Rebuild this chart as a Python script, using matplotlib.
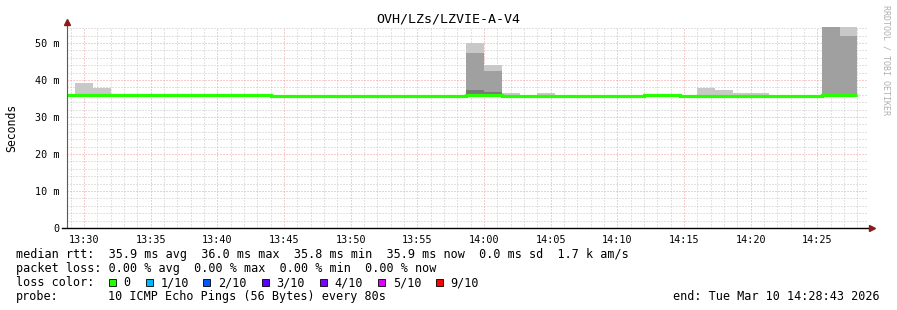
import numpy as np
import matplotlib
matplotlib.use("Agg")
import matplotlib.pyplot as plt
from matplotlib.patches import Rectangle
from matplotlib.ticker import MultipleLocator, FuncFormatter

MONO = "DejaVu Sans Mono"
plt.rcParams['font.family'] = MONO

# ---- data (ms), one value per 80 s probe step ----
title = "OVH/LZs/LZVIE-A-V4"
start_time = "13:28:43"
end_time = "14:28:43"
first_step_end = "13:29:20"
probe_step = 80  # seconds

rtt_median = [35.9, 35.9, 35.9, 35.9, 35.9, 35.9, 35.9, 35.9, 35.9, 35.9,
              36.0, 36.0,
              35.8, 35.8, 35.8, 35.8, 35.8, 35.8, 35.8, 35.8, 35.8, 35.8, 35.8,
              36.0, 36.0,
              35.8, 35.8, 35.8, 35.8, 35.8, 35.8, 35.8, 35.8,
              36.0, 36.0,
              35.8, 35.8, 35.8, 35.8, 35.8, 35.8, 35.8, 35.8,
              36.0, 36.0]
# outer smoke (max ping), middle smoke band top, dark core top
rtt_max = [35.9, 39.2, 37.8, 35.9, 35.9, 35.9, 35.9, 35.9, 35.9, 35.9,
           36.0, 36.0,
           35.8, 35.8, 35.8, 35.8, 35.8, 35.8, 35.8, 35.8, 35.8, 35.8, 35.8,
           49.9, 44.0,
           36.6, 35.8, 36.6, 35.8, 35.8, 35.8, 35.8, 35.8,
           36.0, 36.0,
           35.8, 37.9, 37.3, 36.6, 36.6, 35.8, 35.8, 35.8,
           80.0, 80.0]
rtt_upper = [35.9, 35.9, 35.9, 35.9, 35.9, 35.9, 35.9, 35.9, 35.9, 35.9,
             36.0, 36.0,
             35.8, 35.8, 35.8, 35.8, 35.8, 35.8, 35.8, 35.8, 35.8, 35.8, 35.8,
             47.4, 42.5,
             35.8, 35.8, 35.8, 35.8, 35.8, 35.8, 35.8, 35.8,
             36.0, 36.0,
             35.8, 35.8, 35.8, 35.8, 35.8, 35.8, 35.8, 35.8,
             75.0, 52.0]
rtt_core = [35.9, 35.9, 35.9, 35.9, 35.9, 35.9, 35.9, 35.9, 35.9, 35.9,
            36.0, 36.0,
            35.8, 35.8, 35.8, 35.8, 35.8, 35.8, 35.8, 35.8, 35.8, 35.8, 35.8,
            37.3, 36.8,
            35.8, 35.8, 35.8, 35.8, 35.8, 35.8, 35.8, 35.8,
            36.0, 36.0,
            35.8, 35.8, 35.8, 35.8, 35.8, 35.8, 35.8, 35.8,
            36.0, 36.0]

stats_line = "median rtt:  35.9 ms avg  36.0 ms max  35.8 ms min  35.9 ms now  0.0 ms sd  1.7 k am/s"
loss_line = "packet loss: 0.00 % avg  0.00 % max  0.00 % min  0.00 % now"
probe_text = "10 ICMP Echo Pings (56 Bytes) every 80s"
end_text = "end: Tue Mar 10 14:28:43 2026"
loss_labels = ["0", "1/10", "2/10", "3/10", "4/10", "5/10", "9/10"]
loss_colors = ["#26ff00", "#00b8ff", "#0059ff", "#5e00ff", "#7e00ff", "#dd00ff", "#ff0000"]


def secs(hms):
    h, m, s = [int(v) for v in hms.split(":")]
    return h * 3600 + m * 60 + s


W, H = 897, 310
fig = plt.figure(figsize=(W / 100, H / 100), dpi=100)
fig.patch.set_facecolor("white")

ax_l, ax_r, ax_t, ax_b = 67, 867, 27, 228
ax = fig.add_axes([ax_l / W, 1 - ax_b / H, (ax_r - ax_l) / W, (ax_b - ax_t) / H])

t0, t1 = secs(start_time), secs(end_time)
n = len(rtt_median)
edges = secs(first_step_end) - probe_step + probe_step * np.arange(n + 1)

med = np.array(rtt_median)
base = med - 0.3
ax.stairs(rtt_max, edges, baseline=base, fill=True, color="#c8c8c8", lw=0, zorder=2)
ax.stairs(rtt_upper, edges, baseline=base, fill=True, color="#a0a0a0", lw=0, zorder=3)
ax.stairs(rtt_core, edges, baseline=base, fill=True, color="#787878", lw=0, zorder=4)
ax.stairs(rtt_median, edges, baseline=None, color=loss_colors[0], lw=2.3, zorder=5)

ymax = (ax_b - ax_t) / 3.7
ax.set_xlim(t0, t1)
ax.set_ylim(0, ymax)

# grid
ax.xaxis.set_major_locator(MultipleLocator(300))
ax.xaxis.set_minor_locator(MultipleLocator(60))
ax.yaxis.set_major_locator(MultipleLocator(10))
ax.yaxis.set_minor_locator(MultipleLocator(2))
ax.grid(which="minor", color="#c6c6c6", lw=0.72, linestyle=(0, (1, 2)), zorder=0)
ax.grid(which="major", color="#ee9a9a", lw=0.72, linestyle=(0, (1, 2)), zorder=1)
ax.set_axisbelow(True)

ax.xaxis.set_major_formatter(FuncFormatter(lambda v, p: "%02d:%02d" % (int(v) // 3600, (int(v) % 3600) // 60)))
ax.yaxis.set_major_formatter(FuncFormatter(lambda v, p: "0" if v == 0 else "%d m" % round(v)))
ax.tick_params(which="both", length=0)
ax.tick_params(axis="x", labelsize=7.3, pad=5)
ax.tick_params(axis="y", labelsize=7.3, pad=5.5)

for s in ["top", "right", "bottom"]:
    ax.spines[s].set_visible(False)
ax.spines["left"].set_color("#5a5a5a")
ax.spines["left"].set_linewidth(0.8)
ax.spines["left"].set_zorder(6)

# x axis line and arrows
ax.plot([-5 / 800, 1.005], [0, 0], transform=ax.transAxes, color="black", lw=1.0, clip_on=False, zorder=7)
ax.plot([1.006], [0], transform=ax.transAxes, marker=">", color="#8b1a1a", ms=4, clip_on=False, zorder=8)
ax.plot([0], [1.025], transform=ax.transAxes, marker="^", color="#8b1a1a", ms=4, clip_on=False, zorder=8)
ax.plot([0, 0], [1.0, 1.02], transform=ax.transAxes, color="#5a5a5a", lw=0.8, clip_on=False)

ax.set_ylabel("Seconds", fontsize=8.3)
ax.yaxis.set_label_coords(-49 / 800, 0.5)

fig.text(448 / W, 1 - 19 / H, title, ha="center", va="center", fontsize=9.6)
fig.text(886 / W, 1 - 5 / H, "RRDTOOL / TOBI OETIKER", rotation=-90, ha="center", va="top",
         fontsize=6, color="#b0b0b0")

# legend block
fs = 8.5
rows_y = [254.5, 268.5, 282.5, 296.5]
fig.text(16 / W, 1 - rows_y[0] / H, stats_line, ha="left", va="center", fontsize=fs)
fig.text(16 / W, 1 - rows_y[1] / H, loss_line, ha="left", va="center", fontsize=fs)
fig.text(16 / W, 1 - rows_y[2] / H, "loss color:", ha="left", va="center", fontsize=fs)
fig.text(16 / W, 1 - rows_y[3] / H, "probe:", ha="left", va="center", fontsize=fs)
fig.text(108 / W, 1 - rows_y[3] / H, probe_text, ha="left", va="center", fontsize=fs)
fig.text(880 / W, 1 - rows_y[3] / H, end_text, ha="right", va="center", fontsize=fs)

box_x = [108.7, 146.0, 203.3, 261.7, 320.0, 378.3, 436.0]
for bx, col, lab in zip(box_x, loss_colors, loss_labels):
    fig.add_artist(Rectangle((bx / W, 1 - 286 / H), 7 / W, 7 / H, transform=fig.transFigure,
                             facecolor=col, edgecolor="black", lw=0.6))
    fig.text((bx + 14.5) / W, 1 - rows_y[2] / H, lab, ha="left", va="center", fontsize=fs)

fig.savefig("out.png", dpi=100)
